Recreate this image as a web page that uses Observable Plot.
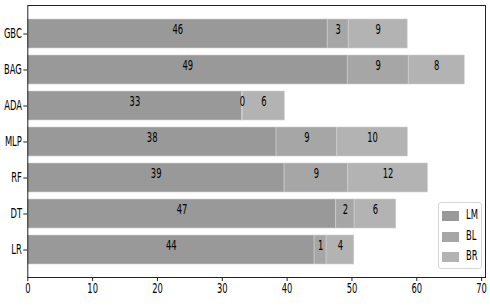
<!DOCTYPE html>
<html>
<head>
<meta charset="utf-8">
<script src="https://cdn.jsdelivr.net/npm/d3@7"></script>
<script src="https://cdn.jsdelivr.net/npm/@observablehq/plot@0.6"></script>
<style>
  html, body { margin: 0; padding: 0; background: #fff; }
  #wrap { position: relative; width: 490px; height: 306px; font-family: "DejaVu Sans", sans-serif; }
  #legend { position: absolute; left: 438px; top: 202px; width: 44px; height: 67px;
    border: 1px solid #d6d6d6; border-radius: 3px; background: rgba(255,255,255,0.8); box-sizing: border-box; }
  .item { position: absolute; left: 3px; height: 12px; }
  .sw { position: absolute; left: 0; top: 1px; width: 17px; height: 10px; }
  .lb { position: absolute; left: 24px; top: -4px; font-size: 13.5px; color: #000; transform: scaleX(0.62); transform-origin: left center; white-space: nowrap; }
</style>
</head>
<body>
<div id="wrap"></div>
<script>
const models = ["GBC", "BAG", "ADA", "MLP", "RF", "DT", "LR"];
const series = ["LM", "BL", "BR"];
const colors = ["#999999", "#a6a6a6", "#b3b3b3"];
const LM = [46.26, 49.35, 33.05, 38.37, 39.61, 47.58, 44.24];
const BL = [3.24, 9.41, 0.10, 9.37, 9.82, 2.83, 1.85];
const BR = [9.10, 8.64, 6.50, 10.89, 12.29, 6.43, 4.27];
const xTicks = [0, 10, 20, 30, 40, 50, 60, 70];

const seriesValues = {LM, BL, BR};
const data = [];
models.forEach((m, i) => {
  series.forEach(s => data.push({model: m, series: s, value: seriesValues[s][i]}));
});

const FS = 13.5;
const chart = Plot.plot({
  width: 490,
  height: 306,
  marginLeft: 27.3,
  marginRight: 5,
  marginTop: 5,
  marginBottom: 29,
  style: {fontFamily: "DejaVu Sans", fontSize: FS + "px", color: "#000", background: "#fff"},
  x: {domain: [0, 70.6], axis: null},
  y: {domain: models, paddingInner: 0.2, paddingOuter: 0.34, axis: null},
  color: {domain: series, range: colors},
  marks: [
    Plot.barX(data, Plot.stackX({x: "value", y: "model", fill: "series", stroke: "#d0d0d0", strokeWidth: 0.6})),
    Plot.text(data, Plot.stackX({x: "value", y: "model", text: d => String(Math.trunc(d.value)), lineAnchor: "bottom", fill: "#000", fontSize: FS})),
    Plot.axisY({tickSize: 4, tickPadding: 2, fontSize: FS, stroke: "#222", color: "#000", label: null}),
    Plot.axisX({ticks: xTicks, tickSize: 4, tickPadding: 2, fontSize: FS, stroke: "#222", color: "#000", label: null}),
    Plot.frame({stroke: "#222", strokeWidth: 1})
  ]
});

const wrap = document.getElementById("wrap");
wrap.appendChild(chart);

// horizontally condense text to match reference
const S = 0.62;
chart.querySelectorAll("text").forEach(el => {
  const bb = el.getBBox();
  const anchor = getComputedStyle(el).textAnchor;
  let cx = bb.x + bb.width / 2;
  if (anchor === "end") cx = bb.x + bb.width;
  else if (anchor === "start") cx = bb.x;
  const t = el.getAttribute("transform") || "";
  el.setAttribute("transform", `${t} translate(${cx},0) scale(${S},1) translate(${-cx},0)`);
});

// legend
const legend = document.createElement("div");
legend.id = "legend";
series.forEach((s, i) => {
  const it = document.createElement("div");
  it.className = "item";
  it.style.top = (7 + i * 20.5) + "px";
  const sw = document.createElement("div");
  sw.className = "sw";
  sw.style.background = colors[i];
  const lb = document.createElement("div");
  lb.className = "lb";
  lb.textContent = s;
  it.appendChild(sw); it.appendChild(lb);
  legend.appendChild(it);
});
wrap.appendChild(legend);
</script>
</body>
</html>
